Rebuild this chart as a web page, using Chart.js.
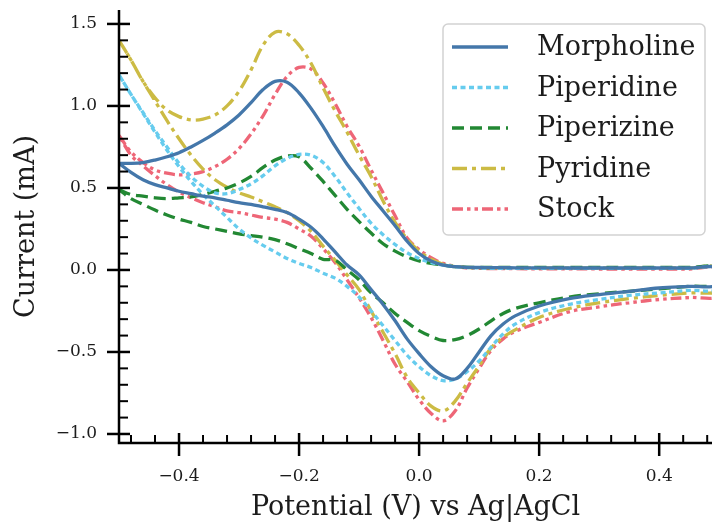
<!DOCTYPE html>
<html>
<head>
<meta charset="utf-8">
<script src="https://cdn.jsdelivr.net/npm/chart.js@4.4.1/dist/chart.umd.min.js"></script>
<style>
  html, body { margin: 0; padding: 0; background: #fff; }
</style>
</head>
<body>
<canvas id="cvChart" width="712" height="523"></canvas>
<script>
// potential grid (V), shared by the forward and the reverse sweep
const potential = [-0.5, -0.48, -0.46, -0.44, -0.42, -0.40, -0.38, -0.36, -0.34, -0.32,
  -0.30, -0.28, -0.26, -0.24, -0.22, -0.20, -0.18, -0.16, -0.14, -0.12,
  -0.10, -0.08, -0.06, -0.04, -0.02, 0.0, 0.02, 0.04, 0.06, 0.08,
  0.1, 0.12, 0.14, 0.16, 0.2, 0.25, 0.3, 0.35, 0.4, 0.45, 0.5];

// current (mA), upper (forward) and lower (reverse) branches, same order as potential
const morpholineFwd = [0.65, 0.65, 0.655, 0.67, 0.69, 0.715, 0.75, 0.79, 0.835, 0.885,
  0.945, 1.02, 1.10, 1.15, 1.145, 1.08, 0.985, 0.875, 0.755, 0.645,
  0.55, 0.45, 0.36, 0.27, 0.175, 0.10, 0.055, 0.03, 0.02, 0.016,
  0.015, 0.014, 0.014, 0.013, 0.013, 0.012, 0.012, 0.012, 0.012, 0.012, 0.012];
const morpholineRev = [0.65, 0.595, 0.55, 0.52, 0.50, 0.48, 0.465, 0.45, 0.44, 0.425,
  0.41, 0.40, 0.385, 0.37, 0.35, 0.31, 0.26, 0.19, 0.11, 0.03,
  -0.03, -0.12, -0.21, -0.31, -0.42, -0.51, -0.59, -0.645, -0.665, -0.60,
  -0.50, -0.40, -0.33, -0.28, -0.22, -0.175, -0.15, -0.13, -0.11, -0.10, -0.09];

const piperidineFwd = [1.19, 1.07, 0.96, 0.85, 0.75, 0.65, 0.57, 0.51, 0.47, 0.465,
  0.49, 0.525, 0.575, 0.635, 0.68, 0.705, 0.70, 0.655, 0.57, 0.47,
  0.375, 0.285, 0.215, 0.155, 0.105, 0.07, 0.045, 0.03, 0.02, 0.015,
  0.012, 0.01, 0.01, 0.01, 0.01, 0.01, 0.01, 0.01, 0.01, 0.01, 0.01];
const piperidineRev = [1.19, 1.07, 0.955, 0.84, 0.73, 0.63, 0.54, 0.46, 0.39, 0.32,
  0.25, 0.195, 0.15, 0.11, 0.07, 0.04, 0.015, -0.02, -0.05, -0.10,
  -0.165, -0.25, -0.34, -0.43, -0.52, -0.59, -0.645, -0.675, -0.665, -0.62,
  -0.555, -0.47, -0.39, -0.33, -0.26, -0.21, -0.18, -0.155, -0.14, -0.125, -0.115];

const piperizineFwd = [0.49, 0.46, 0.45, 0.44, 0.435, 0.44, 0.445, 0.46, 0.48, 0.50,
  0.53, 0.57, 0.625, 0.67, 0.695, 0.69, 0.62, 0.54, 0.455, 0.37,
  0.295, 0.225, 0.16, 0.115, 0.08, 0.055, 0.04, 0.03, 0.02, 0.016,
  0.015, 0.015, 0.015, 0.015, 0.015, 0.015, 0.015, 0.015, 0.015, 0.015, 0.015];
const piperizineRev = [0.49, 0.435, 0.40, 0.365, 0.335, 0.31, 0.29, 0.265, 0.25, 0.235,
  0.22, 0.21, 0.20, 0.185, 0.16, 0.13, 0.10, 0.065, 0.06, 0.0,
  -0.06, -0.14, -0.20, -0.265, -0.32, -0.37, -0.405, -0.43, -0.425, -0.40,
  -0.36, -0.31, -0.265, -0.235, -0.20, -0.165, -0.145, -0.13, -0.115, -0.10, -0.085];

const pyridineFwd = [1.40, 1.28, 1.15, 1.05, 0.975, 0.935, 0.915, 0.92, 0.945, 1.0,
  1.09, 1.22, 1.37, 1.45, 1.44, 1.37, 1.26, 1.11, 0.97, 0.84,
  0.70, 0.57, 0.42, 0.29, 0.19, 0.115, 0.065, 0.035, 0.022, 0.016,
  0.014, 0.013, 0.013, 0.013, 0.013, 0.013, 0.013, 0.013, 0.013, 0.013, 0.013];
const pyridineRev = [1.40, 1.28, 1.15, 1.03, 0.91, 0.80, 0.70, 0.615, 0.55, 0.505,
  0.47, 0.445, 0.415, 0.385, 0.35, 0.30, 0.235, 0.145, 0.06, -0.03,
  -0.12, -0.25, -0.38, -0.51, -0.655, -0.75, -0.83, -0.86, -0.80, -0.69,
  -0.585, -0.475, -0.41, -0.365, -0.29, -0.235, -0.20, -0.175, -0.155, -0.14, -0.125];

const stockFwd = [0.82, 0.72, 0.655, 0.61, 0.59, 0.58, 0.585, 0.60, 0.63, 0.675,
  0.74, 0.83, 0.94, 1.07, 1.18, 1.235, 1.225, 1.14, 1.015, 0.875,
  0.755, 0.61, 0.47, 0.33, 0.195, 0.125, 0.075, 0.04, 0.022, 0.012,
  0.01, 0.008, 0.008, 0.008, 0.007, 0.007, 0.006, 0.006, 0.006, 0.006, 0.006];
const stockRev = [0.82, 0.70, 0.635, 0.575, 0.52, 0.475, 0.44, 0.41, 0.385, 0.36,
  0.35, 0.335, 0.32, 0.31, 0.29, 0.25, 0.205, 0.13, 0.045, -0.06,
  -0.17, -0.29, -0.43, -0.575, -0.68, -0.79, -0.875, -0.92, -0.86, -0.72,
  -0.60, -0.49, -0.42, -0.375, -0.32, -0.255, -0.225, -0.2, -0.18, -0.168, -0.157];

const seriesNames = ["Morpholine", "Piperidine", "Piperizine", "Pyridine", "Stock"];
const xTicks = [-0.4, -0.2, 0.0, 0.2, 0.4];
const yTicks = [-1.0, -0.5, 0.0, 0.5, 1.0, 1.5];

const serif = "'DejaVu Serif', serif";
const textColor = "#1c1c1c";

// forward sweep out, reverse sweep back: one closed voltammogram
function cvLoop(fwd, rev) {
  const pts = potential.map((v, i) => ({ x: v, y: fwd[i] }));
  for (let i = potential.length - 1; i >= 0; i--) {
    pts.push({ x: potential[i], y: rev[i] });
  }
  return pts;
}

function fmtTick(v) {
  return v < 0 ? "\u2212" + Math.abs(v).toFixed(1) : v.toFixed(1);
}

// spines and ticks drawn like matplotlib (major ticks cross, minor point inward)
const axesPlugin = {
  id: "mplAxes",
  afterDatasetsDraw(chart) {
    const { ctx, chartArea: a, scales } = chart;
    const line = (x1, y1, x2, y2) => {
      ctx.beginPath();
      ctx.moveTo(x1, y1);
      ctx.lineTo(x2, y2);
      ctx.stroke();
    };
    ctx.save();
    ctx.strokeStyle = "#000";
    ctx.lineCap = "butt";
    ctx.lineWidth = 2.5;
    ctx.beginPath();
    ctx.moveTo(a.left, a.top);
    ctx.lineTo(a.left, a.bottom);
    ctx.lineTo(a.right, a.bottom);
    ctx.stroke();

    yTicks.forEach((v) => {
      const p = scales.y.getPixelForValue(v);
      line(a.left - 12, p, a.left + 11, p);
    });
    xTicks.forEach((v) => {
      const p = scales.x.getPixelForValue(v);
      line(p, a.bottom - 10, p, a.bottom + 13);
    });

    ctx.lineWidth = 2;
    for (let k = -10; k <= 15; k++) {
      if (k % 5 === 0) continue;
      const p = scales.y.getPixelForValue(k / 10);
      line(a.left, p, a.left + 9, p);
    }
    for (let k = -12; k <= 12; k++) {
      if (k % 5 === 0) continue;
      const p = scales.x.getPixelForValue(k * 0.04);
      line(p, a.bottom - 8, p, a.bottom);
    }
    ctx.restore();
  },
};

// framed legend in the upper right corner of the axes
const legendPlugin = {
  id: "boxLegend",
  afterDatasetsDraw(chart) {
    const { ctx, chartArea: a } = chart;
    const w = 262, h = 211;
    const x0 = a.right - 7 - w;
    const y0 = a.top + 14;
    ctx.save();
    ctx.beginPath();
    ctx.roundRect(x0, y0, w, h, 5);
    ctx.fillStyle = "rgba(255,255,255,0.85)";
    ctx.fill();
    ctx.lineWidth = 1.5;
    ctx.strokeStyle = "#d2d2d2";
    ctx.stroke();
    chart.data.datasets.forEach((ds, i) => {
      const yy = y0 + 23 + i * 40.5;
      ctx.beginPath();
      ctx.setLineDash(ds.borderDash || []);
      ctx.lineWidth = ds.borderWidth;
      ctx.strokeStyle = ds.borderColor;
      ctx.moveTo(x0 + 9, yy);
      ctx.lineTo(x0 + 65, yy);
      ctx.stroke();
      ctx.setLineDash([]);
      ctx.fillStyle = textColor;
      ctx.font = "27px " + serif;
      ctx.textBaseline = "middle";
      ctx.textAlign = "left";
      ctx.fillText(ds.label, x0 + 94, yy + 1);
    });
    ctx.restore();
  },
};

const colors = ["#4477AA", "#66CCEE", "#228833", "#CCBB44", "#EE6677"];
const dashes = [[], [5, 3.5], [12, 6], [15, 5, 4, 5], [11, 4, 3.5, 4, 3.5, 4]];
const branches = [
  [morpholineFwd, morpholineRev],
  [piperidineFwd, piperidineRev],
  [piperizineFwd, piperizineRev],
  [pyridineFwd, pyridineRev],
  [stockFwd, stockRev],
];

function noScalePadding(s) {
  s.paddingTop = 0;
  s.paddingBottom = 0;
  s.paddingLeft = 0;
  s.paddingRight = 0;
}

const cvChart = new Chart(document.getElementById("cvChart"), {
  type: "scatter",
  data: {
    datasets: seriesNames.map((name, i) => ({
      label: name,
      data: cvLoop(branches[i][0], branches[i][1]),
      showLine: true,
      borderColor: colors[i],
      borderWidth: 3.3,
      borderDash: dashes[i],
      borderCapStyle: "butt",
      pointRadius: 0,
      tension: 0.35,
      fill: false,
      clip: 0,
    })),
  },
  options: {
    responsive: false,
    animation: false,
    devicePixelRatio: 1,
    layout: { padding: { top: 10, right: 0, left: 0, bottom: 0 } },
    plugins: {
      legend: { display: false },
      tooltip: { enabled: false },
    },
    scales: {
      x: {
        type: "linear",
        min: -0.5,
        max: 0.488,
        afterBuildTicks: (s) => { s.ticks = xTicks.map((v) => ({ value: v })); },
        afterFit: (s) => { s.height = 80; noScalePadding(s); },
        grid: { display: false, drawTicks: true, tickLength: 13 },
        border: { display: false },
        ticks: {
          padding: 10,
          color: textColor,
          maxRotation: 0,
          autoSkip: false,
          font: { family: serif, size: 17 },
          callback: fmtTick,
        },
        title: {
          display: true,
          text: "Potential (V) vs Ag|AgCl",
          color: textColor,
          font: { family: serif, size: 27 },
          padding: { top: 0, bottom: -1 },
        },
      },
      y: {
        type: "linear",
        min: -1.055,
        max: 1.585,
        afterBuildTicks: (s) => { s.ticks = yTicks.map((v) => ({ value: v })); },
        afterFit: (s) => { s.width = 119; noScalePadding(s); },
        grid: { display: false, drawTicks: true, tickLength: 13 },
        border: { display: false },
        ticks: {
          padding: 9,
          color: textColor,
          autoSkip: false,
          font: { family: serif, size: 17 },
          callback: fmtTick,
        },
        title: {
          display: true,
          text: "Current (mA)",
          color: textColor,
          font: { family: serif, size: 27 },
          padding: { top: 11, bottom: 0 },
        },
      },
    },
  },
  plugins: [axesPlugin, legendPlugin],
});
</script>
</body>
</html>
